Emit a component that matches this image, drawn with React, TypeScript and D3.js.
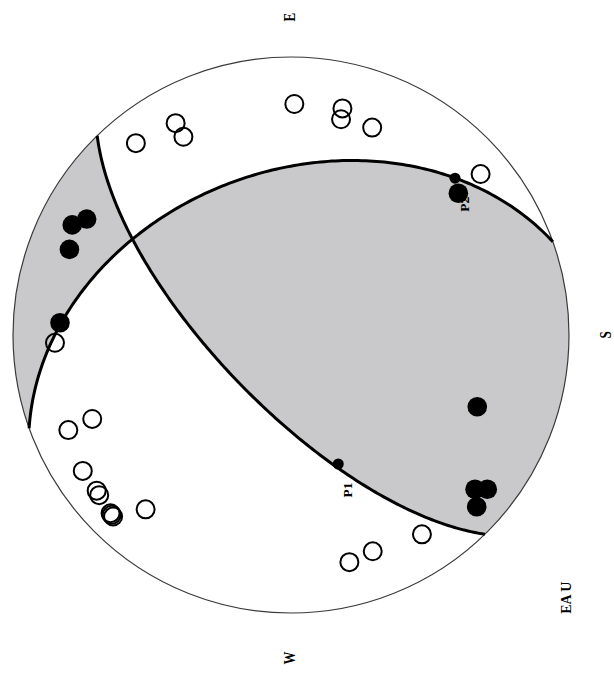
import React from "react";
import * as d3 from "d3";

const WIDTH = 614;
const HEIGHT = 677;
const CX = 291;
const CY = 335;
const RADIUS = 278;

// Nodal planes: strike and dip in degrees
const planeStrike = [160.4, 45.8];
const planeDip = [40.8, 69.3];

// Dilatations (open symbols): projected disc coordinates (north, east)
const dilN = [-0.012, -0.185, -0.18, -0.292, 0.415, 0.387, 0.558, -0.682, 0.849, 0.715, 0.801, 0.749, 0.699, 0.69, 0.649, 0.64, 0.645, 0.523, -0.471, -0.294, -0.21];
const dilE = [0.831, 0.815, 0.776, 0.746, 0.762, 0.713, 0.69, 0.579, -0.028, -0.302, -0.342, -0.489, -0.56, -0.576, -0.641, -0.653, -0.647, -0.627, -0.717, -0.778, -0.817];

// Compressions (filled symbols)
const compN = [0.735, 0.787, 0.797, 0.831, -0.602, -0.67, -0.706, -0.662, -0.668];
const compE = [0.417, 0.396, 0.308, 0.044, 0.51, -0.258, -0.555, -0.555, -0.618];

// P axes
const pLabels = ["P1", "P2"];
const pN = [-0.17, -0.59];
const pE = [-0.464, 0.564];

// Direction labels (azimuth in degrees) and the projection tag
const dirLabels = ["E", "S", "W"];
const dirAz = [90, 180, 270];
const dirDist = [1.143, 1.137, 1.162];
const projectionTag = "EA U";

const xs = d3.scaleLinear().domain([-1, 1]).range([CX - RADIUS, CX + RADIUS]);
const ys = d3.scaleLinear().domain([-1, 1]).range([CY - RADIUS, CY + RADIUS]);

// north is drawn to the left and east upwards
const toScreen = (n: number, e: number): [number, number] => [xs(-n), ys(-e)];

// Lambert equal-area projection of a direction onto the upper hemisphere
function project(v: [number, number, number]): [number, number] {
  let [n, e, d] = v;
  if (d >= 0) {
    n = -n;
    e = -e;
    d = -d;
  }
  const h = Math.hypot(n, e);
  const rho = Math.sqrt(Math.max(0, 1 + d));
  if (h < 1e-9) return [0, 0];
  return [(n / h) * rho, (e / h) * rho];
}

const rad = Math.PI / 180;

function planeCurve(strike: number, dip: number): [number, number][] {
  const s = strike * rad;
  const dp = dip * rad;
  const sv = [Math.cos(s), Math.sin(s), 0];
  const dv = [-Math.cos(dp) * Math.sin(s), Math.cos(dp) * Math.cos(s), Math.sin(dp)];
  const pts: [number, number][] = [];
  const N = 180;
  for (let i = 0; i <= N; i++) {
    const t = (Math.PI * i) / N;
    const c = Math.cos(t);
    const sn = Math.sin(t);
    pts.push(project([c * sv[0] + sn * dv[0], c * sv[1] + sn * dv[1], c * sv[2] + sn * dv[2]]));
  }
  return pts;
}

// closed region between a nodal curve and the rim, on the bulge side (sign 1) or the other (-1)
function sideRegion(curve: [number, number][], sign: number): [number, number][] {
  const end = curve[curve.length - 1];
  const mid = curve[Math.floor(curve.length / 2)];
  const el = Math.hypot(end[0], end[1]);
  const e1 = [end[0] / el, end[1] / el];
  const ml = Math.hypot(mid[0], mid[1]);
  let m = [mid[0] / ml, mid[1] / ml];
  // make m orthogonal to e1
  const dot = m[0] * e1[0] + m[1] * e1[1];
  m = [m[0] - dot * e1[0], m[1] - dot * e1[1]];
  const mm = Math.hypot(m[0], m[1]);
  m = [(sign * m[0]) / mm, (sign * m[1]) / mm];
  const arc: [number, number][] = [];
  const N = 180;
  for (let i = 0; i <= N; i++) {
    const u = (Math.PI * i) / N;
    arc.push([Math.cos(u) * e1[0] + Math.sin(u) * m[0], Math.cos(u) * e1[1] + Math.sin(u) * m[1]]);
  }
  return [...curve, ...arc];
}

const line = d3
  .line<[number, number]>()
  .x((p) => toScreen(p[0], p[1])[0])
  .y((p) => toScreen(p[0], p[1])[1]);

export default function App() {
  const curves = planeStrike.map((s, i) => planeCurve(s, planeDip[i]));
  const beyondA = line(sideRegion(curves[0], 1)) + "Z";
  const beyondB = line(sideRegion(curves[1], 1)) + "Z";
  const insideA = line(sideRegion(curves[0], -1)) + "Z";
  const insideB = line(sideRegion(curves[1], -1)) + "Z";
  const fill = "#c9c9cb";
  const font = "'Liberation Serif', 'Times New Roman', serif";

  return (
    <svg
      width={WIDTH}
      height={HEIGHT}
      style={{ position: "absolute", left: 0, top: 0, background: "#fff" }}
    >
      <defs>
        <clipPath id="clipBeyondB">
          <path d={beyondB} />
        </clipPath>
        <clipPath id="clipInsideB">
          <path d={insideB} />
        </clipPath>
      </defs>
      <rect width={WIDTH} height={HEIGHT} fill="#fff" />
      <path d={beyondA} fill={fill} clipPath="url(#clipBeyondB)" />
      <path d={insideA} fill={fill} clipPath="url(#clipInsideB)" />
      <circle cx={xs(0)} cy={ys(0)} r={xs(1) - xs(0)} fill="none" stroke="#3a3a3a" strokeWidth={1.2} />
      {curves.map((c, i) => (
        <path key={i} d={line(c) || ""} fill="none" stroke="#000" strokeWidth={3} />
      ))}
      {dilN.map((n, i) => {
        const [x, y] = toScreen(n, dilE[i]);
        return <circle key={"d" + i} cx={x} cy={y} r={9} fill="none" stroke="#000" strokeWidth={2} />;
      })}
      {compN.map((n, i) => {
        const [x, y] = toScreen(n, compE[i]);
        return <circle key={"c" + i} cx={x} cy={y} r={9.8} fill="#000" />;
      })}
      {pN.map((n, i) => {
        const [x, y] = toScreen(n, pE[i]);
        return (
          <g key={"p" + i}>
            <circle cx={x} cy={y} r={5.5} fill="#000" />
            <text
              transform={`translate(${x + 11},${y + 26}) rotate(-90)`}
              fontFamily={font}
              fontWeight="bold"
              fontSize={13.5}
              textAnchor="middle"
              dominantBaseline="middle"
            >
              {pLabels[i]}
            </text>
          </g>
        );
      })}
      {dirLabels.map((lab, i) => {
        const a = dirAz[i] * rad;
        const [x, y] = toScreen(Math.cos(a) * dirDist[i], Math.sin(a) * dirDist[i]);
        return (
          <text
            key={lab}
            transform={`translate(${x},${y}) rotate(-90) scale(1,1.35)`}
            fontFamily={font}
            fontWeight="bold"
            fontSize={13}
            textAnchor="middle"
            dominantBaseline="middle"
          >
            {lab}
          </text>
        );
      })}
      <text
        transform={`translate(${xs(0.995)},${ys(0.945)}) rotate(-90)`}
        fontFamily={font}
        fontWeight="bold"
        fontSize={14}
        textAnchor="middle"
        dominantBaseline="middle"
      >
        {projectionTag}
      </text>
    </svg>
  );
}
